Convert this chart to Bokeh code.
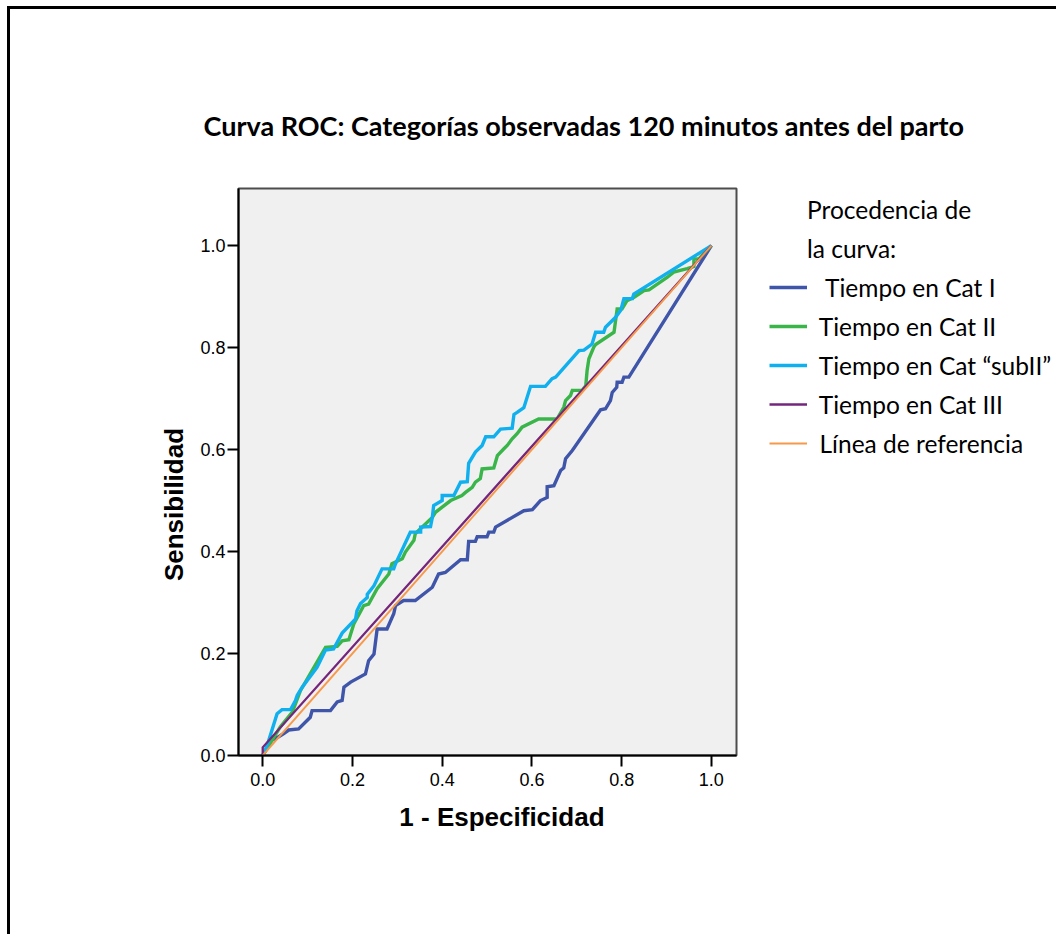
from bokeh.plotting import figure
from bokeh.models import (Range1d, FixedTicker, Legend, LegendItem,
                          PrintfTickFormatter)
from bokeh.embed import file_html
from bokeh.resources import INLINE

# ROC curves: 1 - specificity (x) against sensitivity (y)
cat1_fpr = [0.000, 0.020, 0.032, 0.047, 0.058, 0.080, 0.106, 0.110, 0.151, 0.166,
            0.177, 0.181, 0.196, 0.229, 0.236, 0.248, 0.255, 0.277, 0.292, 0.296,
            0.314, 0.340, 0.378, 0.392, 0.407, 0.441, 0.456, 0.459, 0.474, 0.478,
            0.500, 0.504, 0.515, 0.519, 0.582, 0.601, 0.619, 0.634, 0.634, 0.649,
            0.664, 0.671, 0.675, 0.690, 0.753, 0.764, 0.775, 0.779, 0.789, 0.790,
            0.801, 0.805, 0.816, 1.000]
cat1_tpr = [0.000, 0.030, 0.035, 0.043, 0.050, 0.052, 0.075, 0.088, 0.088, 0.105,
            0.108, 0.134, 0.144, 0.160, 0.186, 0.199, 0.248, 0.248, 0.278, 0.294,
            0.304, 0.304, 0.330, 0.356, 0.359, 0.384, 0.384, 0.420, 0.420, 0.429,
            0.429, 0.438, 0.438, 0.448, 0.480, 0.482, 0.500, 0.506, 0.527, 0.529,
            0.559, 0.564, 0.582, 0.598, 0.678, 0.680, 0.696, 0.712, 0.722, 0.732,
            0.732, 0.742, 0.742, 1.000]

cat2_fpr = [0.000, 0.039, 0.066, 0.084, 0.140, 0.166, 0.177, 0.192, 0.203, 0.225,
            0.236, 0.255, 0.281, 0.288, 0.311, 0.318, 0.337, 0.340, 0.378, 0.385,
            0.419, 0.444, 0.452, 0.467, 0.474, 0.485, 0.489, 0.515, 0.523, 0.537,
            0.545, 0.556, 0.567, 0.578, 0.615, 0.656, 0.671, 0.675, 0.686, 0.690,
            0.712, 0.720, 0.723, 0.727, 0.738, 0.742, 0.783, 0.790, 0.801, 0.812,
            0.827, 0.850, 0.861, 0.902, 0.916, 0.946, 0.961, 0.961, 0.972, 1.000]
cat2_tpr = [0.000, 0.056, 0.085, 0.127, 0.212, 0.214, 0.225, 0.227, 0.258, 0.294,
            0.297, 0.327, 0.356, 0.376, 0.386, 0.399, 0.422, 0.435, 0.467, 0.477,
            0.500, 0.510, 0.516, 0.526, 0.536, 0.543, 0.562, 0.564, 0.588, 0.601,
            0.608, 0.621, 0.631, 0.644, 0.660, 0.660, 0.683, 0.696, 0.706, 0.716,
            0.716, 0.725, 0.755, 0.778, 0.801, 0.806, 0.830, 0.876, 0.876, 0.892,
            0.898, 0.912, 0.913, 0.938, 0.948, 0.955, 0.959, 0.974, 0.974, 1.000]

sub2_fpr = [0.000, 0.010, 0.032, 0.043, 0.062, 0.073, 0.077, 0.088, 0.121, 0.140,
            0.158, 0.166, 0.177, 0.207, 0.210, 0.218, 0.233, 0.233, 0.248, 0.266,
            0.292, 0.296, 0.329, 0.352, 0.352, 0.374, 0.378, 0.381, 0.400, 0.400,
            0.426, 0.441, 0.456, 0.459, 0.474, 0.489, 0.497, 0.515, 0.530, 0.556,
            0.560, 0.567, 0.582, 0.597, 0.630, 0.645, 0.653, 0.705, 0.716, 0.734,
            0.742, 0.760, 0.764, 0.786, 0.798, 0.805, 0.824, 0.827, 1.000]
sub2_tpr = [0.000, 0.020, 0.082, 0.090, 0.090, 0.108, 0.118, 0.134, 0.173, 0.207,
            0.209, 0.222, 0.240, 0.268, 0.284, 0.298, 0.310, 0.316, 0.333, 0.366,
            0.366, 0.376, 0.438, 0.438, 0.448, 0.449, 0.467, 0.490, 0.500, 0.510,
            0.510, 0.536, 0.537, 0.573, 0.595, 0.608, 0.625, 0.625, 0.640, 0.642,
            0.669, 0.673, 0.682, 0.724, 0.724, 0.739, 0.742, 0.794, 0.795, 0.807,
            0.830, 0.830, 0.840, 0.859, 0.873, 0.896, 0.896, 0.905, 1.000]

cat3_fpr = [0.0, 0.0, 1.0]
cat3_tpr = [0.0, 0.016, 1.0]

ref_fpr = [0.0, 1.0]
ref_tpr = [0.0, 1.0]

tick_values = [0.0, 0.2, 0.4, 0.6, 0.8, 1.0]

series_labels = ["Tiempo en Cat I", "Tiempo en Cat II",
                 "Tiempo en Cat \u201csubII\u201d", "Tiempo en Cat III",
                 "L\u00ednea de referencia"]
series_indent = [3, 2, 2, 2, 2]
series_colors = ["#3f55a9", "#39b54a", "#10b0ee", "#74267c", "#f7994a"]
series_widths = [3.4, 3.4, 3.4, 2.3, 1.9]

title_text = "Curva ROC: Categor\u00edas observadas 120 minutos antes del parto"
legend_heading = ["Procedencia de", "la curva:"]
x_title = "1 - Especificidad"
y_title = "Sensibilidad"

NBSP = "\u00a0"

p = figure(frame_width=498, frame_height=567,
           x_range=Range1d(-0.054, 1.056), y_range=Range1d(0.0, 1.112),
           output_backend="svg", toolbar_location=None,
           min_border_left=228, min_border_right=320,
           min_border_top=179, min_border_bottom=179,
           background_fill_color="#f0f0f0", border_fill_color="white",
           outline_line_color="#4d4d4d", outline_line_width=2)
p.styles = {"margin-left": "7px", "margin-top": "6px",
            "border-left": "3px solid black", "border-top": "3px solid black"}

p.title.text = title_text
p.title.align = "left"
p.title.offset = -35
p.title.standoff = 94
p.title.text_font = "Lato"
p.title.text_font_style = "bold"
p.title.text_font_size = "27px"
p.title.text_color = "black"

p.xgrid.visible = False
p.ygrid.visible = False

for ax in (p.xaxis[0], p.yaxis[0]):
    ax.ticker = FixedTicker(ticks=tick_values)
    ax.formatter = PrintfTickFormatter(format="%.1f")
    ax.axis_line_color = "black"
    ax.axis_line_width = 2
    ax.major_tick_line_color = "black"
    ax.major_tick_line_width = 2
    ax.major_tick_in = 0
    ax.major_tick_out = 11
    ax.minor_tick_line_color = None
    ax.major_label_text_font = "Liberation Sans"
    ax.major_label_text_font_size = "18px"
    ax.major_label_text_color = "black"
    ax.axis_label_text_font = "Liberation Sans"
    ax.axis_label_text_font_style = "bold"
    ax.axis_label_text_font_size = "26px"
    ax.axis_label_text_color = "black"
p.xaxis[0].major_label_standoff = 6
p.yaxis[0].major_label_standoff = 2
# axis titles sit slightly off the frame centre
p.xaxis[0].axis_label = NBSP * 4 + x_title
p.yaxis[0].axis_label = y_title + NBSP * 9
p.xaxis[0].axis_label_standoff = 13
p.yaxis[0].axis_label_standoff = 8

curves = [(cat1_fpr, cat1_tpr), (cat2_fpr, cat2_tpr), (sub2_fpr, sub2_tpr),
          (cat3_fpr, cat3_tpr), (ref_fpr, ref_tpr)]
renderers = []
for (xs, ys), col, w in zip(curves, series_colors, series_widths):
    r = p.line(xs, ys, line_color=col, line_width=w, line_join="miter")
    renderers.append(r)

# heading rows of the legend carry no visible sample line
heading_rs = [p.line([0.0], [0.0], line_alpha=0) for _ in legend_heading]

items = [LegendItem(label=t, renderers=[r]) for t, r in zip(legend_heading, heading_rs)]
items += [LegendItem(label=NBSP * n + lab, renderers=[r])
          for lab, n, r in zip(series_labels, series_indent, renderers)]

legend = Legend(
    items=items, location=(33, 297), orientation="vertical",
    glyph_width=38, glyph_height=30, label_height=30, label_standoff=0,
    spacing=9, padding=0, margin=0,
    border_line_alpha=0, background_fill_alpha=0,
    label_text_font="Lato", label_text_font_size="24.5px", label_text_color="black")
p.add_layout(legend, "right")

open("out.html", "w").write(file_html(p, INLINE))
